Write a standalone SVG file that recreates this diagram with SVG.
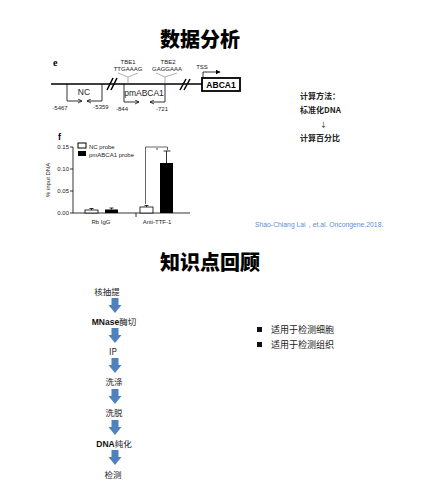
<svg xmlns="http://www.w3.org/2000/svg" width="439" height="489" viewBox="0 0 439 489">
<defs>
<marker id="ah" viewBox="0 0 10 10" refX="9" refY="5" markerWidth="5" markerHeight="5" orient="auto-start-reverse" markerUnits="userSpaceOnUse"><path d="M0,0 L10,5 L0,10 Z" fill="#000"/></marker>
<marker id="ao" viewBox="0 0 10 10" refX="9" refY="5" markerWidth="5" markerHeight="5" orient="auto" markerUnits="userSpaceOnUse"><path d="M1,1 L9,5 L1,9" fill="none" stroke="#000" stroke-width="1.5"/></marker>
<path id="barr" d="M-3.5,0 H3.5 V7 H6.5 L0,15 L-6.5,7 H-3.5 Z" fill="#4f81bd"/>
</defs>
<style>
.t{font-family:"Liberation Sans","Noto Sans CJK SC",sans-serif;fill:#000}
.cjk{font-family:"Noto Sans CJK SC","Liberation Sans",sans-serif;fill:#222}
.ttl{font-family:"Noto Sans CJK SC",sans-serif;font-weight:900;font-size:20px;fill:#000}
.ln{stroke:#000;fill:none;stroke-width:1.5}
.th{stroke:#000;fill:none;stroke-width:0.8}
.sm{font-family:"Liberation Sans",sans-serif;font-size:6px;fill:#222}
.gl{font-family:"Liberation Sans",sans-serif;font-size:8.5px;fill:#222}
</style>
<rect width="439" height="489" fill="#fff"/>
<text class="ttl" x="200" y="47" text-anchor="middle">数据分析</text>
<text class="ttl" x="210" y="270" text-anchor="middle">知识点回顾</text>

<!-- panel e -->
<g id="panel-e">
<text x="53" y="66" font-family="Liberation Serif,serif" font-weight="bold" font-size="10">e</text>
<line class="ln" x1="51" y1="84" x2="202" y2="84"/>
<g id="slashes">
<line x1="107" y1="90" x2="113" y2="78" class="ln" stroke-width="1.3"/>
<line x1="111" y1="90" x2="117" y2="78" class="ln" stroke-width="1.3"/>
<line x1="180" y1="90" x2="186" y2="79" class="ln" stroke-width="1.3"/>
<line x1="184" y1="90" x2="190" y2="79" class="ln" stroke-width="1.3"/>
</g>
<g id="nc">
<path class="th" d="M67,84 V101 H82" marker-end="url(#ao)"/>
<path class="th" d="M102,84 V101 H87" marker-end="url(#ao)"/>
<text class="gl" x="84" y="95" text-anchor="middle" font-size="10">NC</text>
<text class="sm" x="60" y="110" text-anchor="middle" font-size="6.5">-5467</text>
<text class="sm" x="101" y="109" text-anchor="middle" font-size="6.5">-5359</text>
</g>
<g id="pm">
<path class="th" d="M124,84 V102 H139" marker-end="url(#ao)"/>
<path class="th" d="M165,84 V102 H150" marker-end="url(#ao)"/>
<text class="gl" x="144" y="96" text-anchor="middle">pmABCA1</text>
<text class="sm" x="122" y="111" text-anchor="middle" font-size="6.5">-844</text>
<text class="sm" x="162" y="111" text-anchor="middle" font-size="6.5">-721</text>
</g>
<g id="tbe1">
<path d="M128,84 V77 M118,73 L128,77 L138,73" stroke="#777" stroke-width="0.6" fill="none"/>
<text class="sm" x="128" y="64" text-anchor="middle">TBE1</text>
<text class="sm" x="128" y="71" text-anchor="middle">TTGAAAG</text>
</g>
<g id="tbe2">
<path d="M165,84 V77 M156,73 L165,77 L177,73" stroke="#777" stroke-width="0.6" fill="none"/>
<text class="sm" x="168" y="64" text-anchor="middle">TBE2</text>
<text class="sm" x="167" y="71" text-anchor="middle">GAGGAAA</text>
</g>
<g id="abca1">
<rect x="202" y="78" width="38" height="13" fill="#fff" stroke="#000" stroke-width="1.8"/>
<text class="t" x="221" y="88" text-anchor="middle" font-size="8.5" font-weight="bold">ABCA1</text>
<path class="th" d="M203,78 V72 H220" marker-end="url(#ah)"/>
<text class="sm" x="202" y="69" text-anchor="middle">TSS</text>
</g>
</g>

<g id="calc">
<text class="cjk" x="300" y="99" font-size="8" font-weight="bold" fill="#111">计算方法：</text>
<text class="cjk" x="300" y="113" font-size="8" font-weight="bold" fill="#111">标准化DNA</text>
<text class="cjk" x="320" y="127" font-size="7" fill="#333">↓</text>
<text class="cjk" x="300" y="141" font-size="8" font-weight="bold" fill="#111">计算百分比</text>
</g>

<!-- panel f -->
<g id="panel-f">
<text x="58" y="140" font-family="Liberation Sans,sans-serif" font-weight="bold" font-size="9">f</text>
<g class="th">
<line x1="73" y1="147" x2="73" y2="213"/>
<line x1="73" y1="213" x2="190" y2="213"/>
<line x1="70" y1="147" x2="73" y2="147"/>
<line x1="70" y1="169" x2="73" y2="169"/>
<line x1="70" y1="191" x2="73" y2="191"/>
<line x1="70" y1="213" x2="73" y2="213"/>
<line x1="136" y1="213" x2="136" y2="217"/>
</g>
<text class="sm" x="69" y="149" text-anchor="end">0.15</text>
<text class="sm" x="69" y="171" text-anchor="end">0.10</text>
<text class="sm" x="69" y="193" text-anchor="end">0.05</text>
<text class="sm" x="69" y="215" text-anchor="end">0.00</text>
<text class="sm" x="0" y="0" text-anchor="middle" transform="translate(50,180) rotate(-90)">% input DNA</text>
<rect x="85" y="210" width="13" height="3" fill="#fff" stroke="#000" stroke-width="0.8"/>
<path class="th" d="M91.5,210 V208.5 M89.5,208.5 H93.5"/>
<rect x="105" y="209.5" width="13" height="3.5" fill="#000"/>
<path class="th" d="M111.5,209.5 V208 M109.5,208 H113.5"/>
<rect x="140" y="207" width="13" height="6" fill="#fff" stroke="#000" stroke-width="0.8"/>
<path class="th" d="M146.5,207 V205.5 M144.5,205.5 H148.5"/>
<rect x="160" y="163" width="13" height="50" fill="#000"/>
<path class="th" d="M166.5,163 V151 M163.5,151 H170.5"/>
<path d="M145.5,204 V147 H167.5 V150" stroke="#000" stroke-width="0.6" fill="none"/>
<text class="sm" x="157" y="152" text-anchor="middle" font-size="7">*</text>
<text class="sm" x="101" y="224" text-anchor="middle">Rb IgG</text>
<text class="sm" x="157" y="224" text-anchor="middle">Anti-TTF-1</text>
<rect x="78" y="143" width="8" height="5" fill="#fff" stroke="#000" stroke-width="1"/>
<text class="sm" x="89" y="148.5">NC probe</text>
<rect x="78" y="151" width="8" height="5" fill="#000"/>
<text class="sm" x="89" y="156.5">pmABCA1 probe</text>
</g>
<text x="255" y="227" font-family="Liberation Sans,sans-serif" font-size="6.8" fill="#5b8fd0">Shao-Chiang Lai，et.al. Oncongene.2018.</text>

<!-- flow -->
<g id="n1"><text class="cjk" x="107" y="295" text-anchor="middle" font-size="8.5">核抽提</text></g>
<g id="n2"><text class="cjk" x="114" y="325" text-anchor="middle" font-size="8.5"><tspan font-family="Liberation Sans,sans-serif" font-weight="bold" fill="#111">MNase</tspan>酶切</text></g>
<g id="n3"><text class="cjk" x="113" y="355" text-anchor="middle" font-size="8.5">IP</text></g>
<g id="n4"><text class="cjk" x="114" y="385" text-anchor="middle" font-size="8.5">洗涤</text></g>
<g id="n5"><text class="cjk" x="114" y="416" text-anchor="middle" font-size="8.5">洗脱</text></g>
<g id="n6"><text class="cjk" x="114" y="447" text-anchor="middle" font-size="8.5"><tspan font-family="Liberation Sans,sans-serif" font-weight="bold" fill="#111">DNA</tspan>纯化</text></g>
<g id="n7"><text class="cjk" x="113" y="478" text-anchor="middle" font-size="8.5">检测</text></g>
<g id="connectors">
<use href="#barr" x="115" y="298"/>
<use href="#barr" x="115" y="328"/>
<use href="#barr" x="115" y="358"/>
<use href="#barr" x="115" y="389"/>
<use href="#barr" x="115" y="420"/>
<use href="#barr" x="115" y="450"/>
</g>

<g id="bullets">
<rect x="257" y="327" width="5" height="5" fill="#111"/>
<text class="cjk" x="271" y="333" font-size="9">适用于检测细胞</text>
<rect x="257" y="342" width="5" height="5" fill="#111"/>
<text class="cjk" x="271" y="348" font-size="9">适用于检测组织</text>
</g>
</svg>
